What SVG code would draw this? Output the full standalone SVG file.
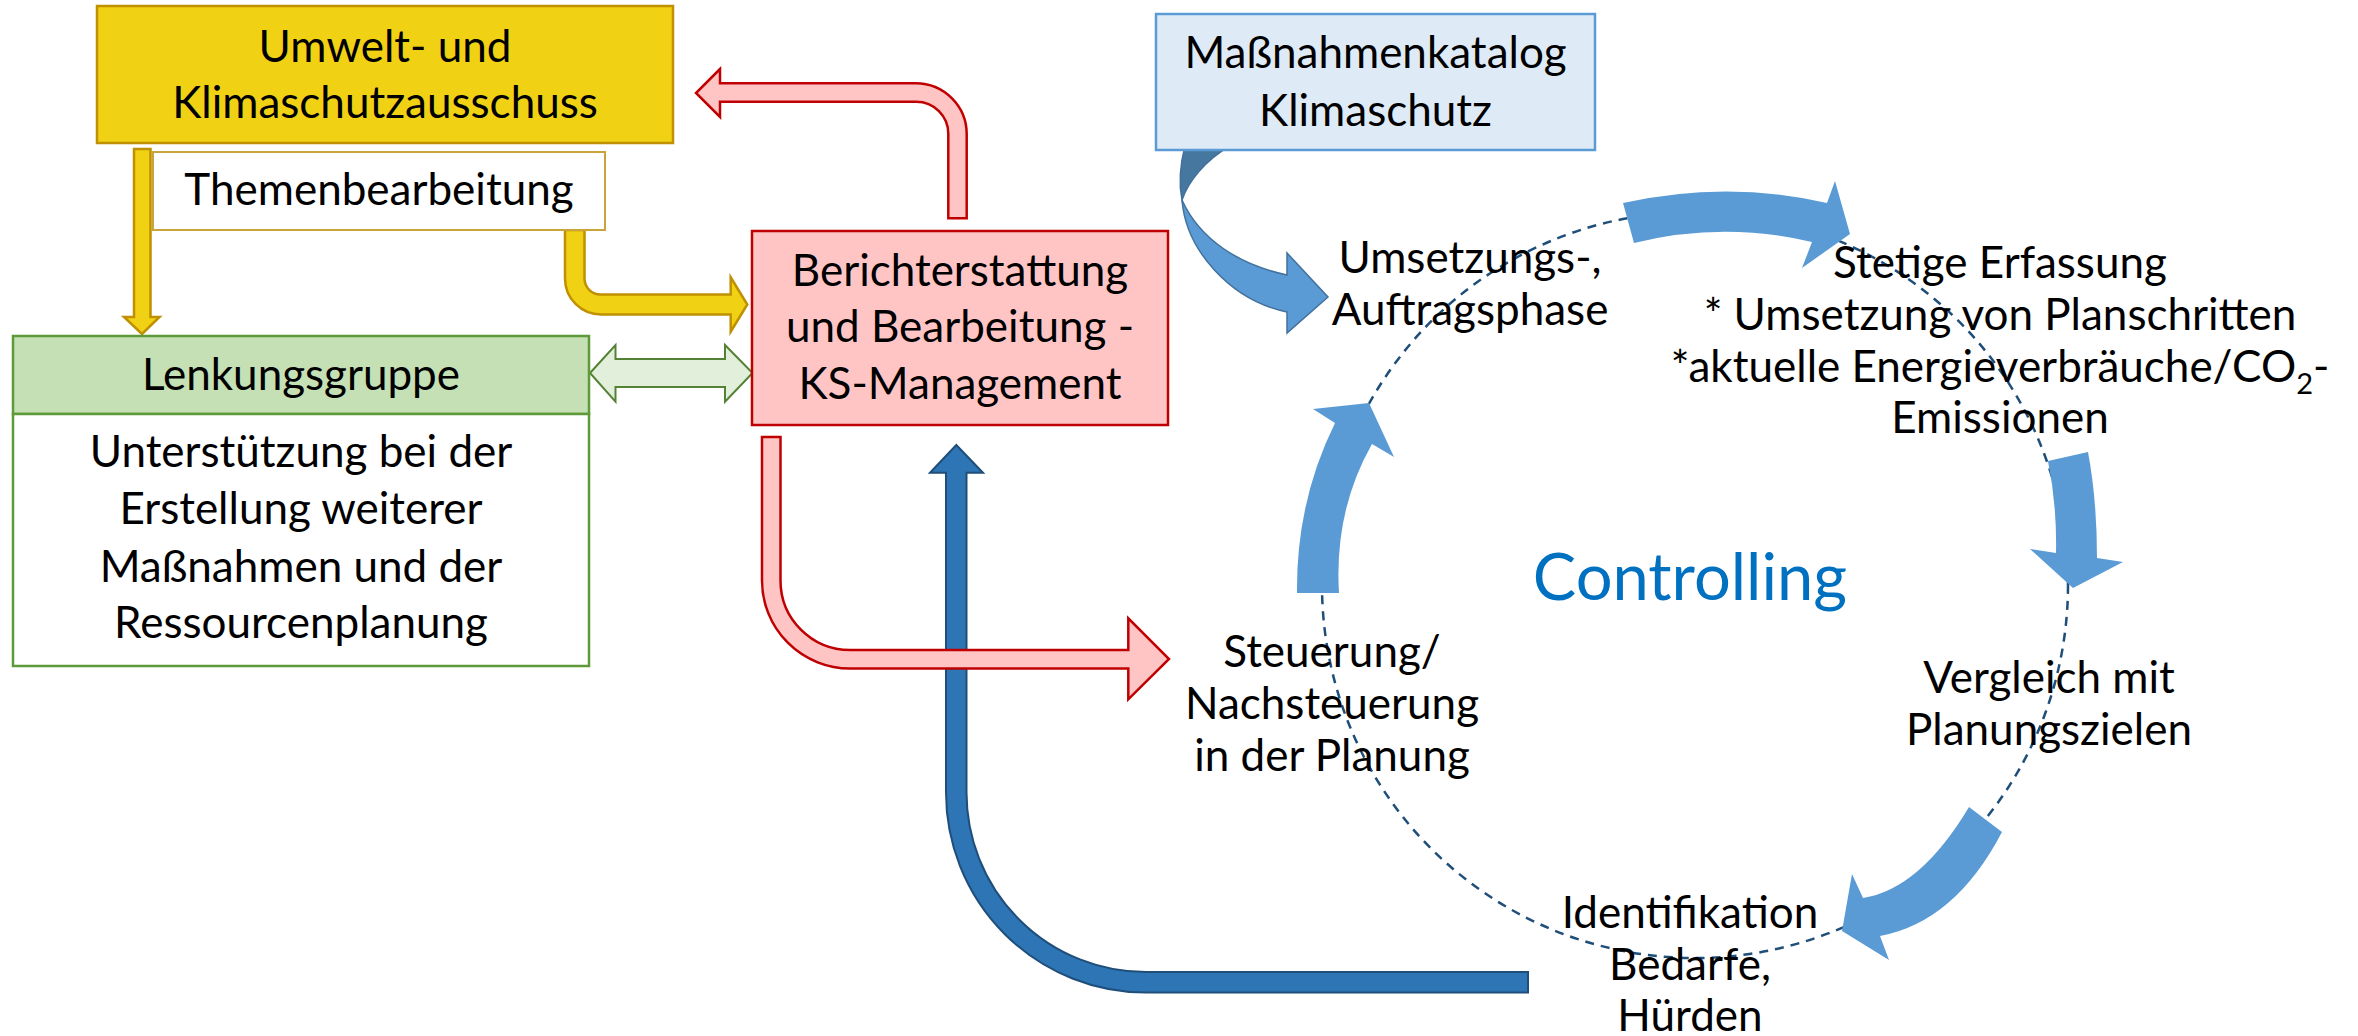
<svg xmlns="http://www.w3.org/2000/svg" width="2358" height="1036" viewBox="0 0 2358 1036">
<style>
text{font-family:"Lato","Open Sans","Liberation Sans",sans-serif;font-size:44px;fill:#000;text-anchor:middle}
.ctl{font-size:65px;fill:#0070C0}
.yel{fill:#F1D114;stroke:#BF9000;stroke-width:2.5}
.red{fill:#FFC5C5;stroke:#C00000;stroke-width:2.5}
.grn{fill:#E2EFDA;stroke:#548235;stroke-width:2}
.blu{fill:#5B9BD5;stroke:none}
.dblu{fill:#2E75B6;stroke:#1F4E79;stroke-width:2}
</style>
<rect width="2358" height="1036" fill="#fff"/>

<!-- dashed controlling circle -->
<circle id="cycle" cx="1695" cy="585" r="373" fill="none" stroke="#1F4E79" stroke-width="2.5" stroke-dasharray="9 7"/>

<g id="connectors">
  <!-- Maßnahmenkatalog curved arrow -->
  <path d="M1185,146 C1180,165 1179,185 1182,200 C1188,182 1205,160 1230,146 Z" fill="#46789F" stroke="#41719C" stroke-width="1.5"/>
  <path d="M1182,200 C1186,250 1230,300 1287,312 L1287,333 L1328,297 L1287,253 L1287,275 C1240,265 1200,240 1182,200 Z" fill="#5B9BD5" stroke="#41719C" stroke-width="1.5"/>
  <!-- cycle arrows -->
  <path class="blu" d="M1623,203 Q1727,180 1827,203 L1835,181 L1850,234 L1802,268 L1812,242 Q1723,221 1634,243 Z"/>
  <path class="blu" d="M2048,461 Q2057,505 2056,553 L2030,549 L2073,588 L2123,562 L2097,558 Q2097,500 2088,452 Z"/>
  <path class="blu" d="M1969,807 Q1920,889 1863,898 L1852,874 L1842,931 L1889,960 L1880,936 Q1955,922 2002,832 Z"/>
  <path class="blu" d="M1297,593 Q1296,502 1335,423 L1313,409 L1369,403 L1394,457 L1372,444 Q1334,511 1339,593 Z"/>
  <!-- yellow arrows -->
  <path class="yel" d="M134,149 L150.5,149 L150.5,317 L159.5,317 L142,334 L124,317 L134,317 Z"/>
  <path class="yel" d="M565,230 L565,278.5 A36,36 0 0 0 601,314.5 L730.7,314.5 L730.7,331.7 L747.3,304.5 L730.7,277.3 L730.7,294.5 L600.5,294.5 A16,16 0 0 1 584.5,278.5 L584.5,230 Z"/>
  <!-- green double arrow -->
  <path class="grn" d="M590,373 L615.5,345 L615.5,359 L725,359 L725,345 L752.5,373 L725,401.7 L725,387 L615.5,387 L615.5,401.7 Z"/>
  <!-- red top arrow -->
  <path class="red" d="M720,69 L696,93 L720,117 L720,101.7 L916.3,101.7 A32,32 0 0 1 948.3,133.7 L948.3,218.3 L966.7,218.3 L966.7,134.3 A51,51 0 0 0 915.7,83.3 L720,83.3 Z"/>
  <!-- dark blue return arrow -->
  <path class="dblu" d="M956.3,445 L983,472.7 L966.5,472.7 L966.5,792.5 A179.5,179.5 0 0 0 1146,972 L1528,972 L1528,992.5 L1146,992.5 A200,200 0 0 1 946,792.5 L946,472.7 L930,472.7 Z"/>
  <!-- red bottom arrow -->
  <path class="red" d="M762,437 L762,580.5 A88,88 0 0 0 850,668.5 L1128.3,668.5 L1128.3,699.3 L1169,659 L1128.3,618.3 L1128.3,650 L850,650 A69.5,69.5 0 0 1 780.5,580.5 L780.5,437 Z"/>
</g>

<g id="umweltausschuss">
  <rect x="97" y="6" width="576" height="137" fill="#F1D114" stroke="#BF9000" stroke-width="2.5"/>
  <text x="385" y="62">Umwelt- und</text>
  <text x="385" y="118">Klimaschutzausschuss</text>
</g>

<g id="themenbearbeitung">
  <rect x="153" y="152" width="452" height="78" fill="#fff" stroke="#C9A43A" stroke-width="2"/>
  <text x="379" y="205">Themenbearbeitung</text>
</g>

<g id="lenkungsgruppe">
  <rect x="13" y="336" width="576" height="78" fill="#C5E0B4" stroke="#5E9A3A" stroke-width="2.5"/>
  <rect x="13" y="414" width="576" height="252" fill="#fff" stroke="#5E9A3A" stroke-width="2.5"/>
  <text x="301" y="390">Lenkungsgruppe</text>
  <text x="301" y="467">Unterstützung bei der</text>
  <text x="301" y="524">Erstellung weiterer</text>
  <text x="301" y="582">Maßnahmen und der</text>
  <text x="301" y="638">Ressourcenplanung</text>
</g>

<g id="ks-management">
  <rect x="752" y="231" width="416" height="194" fill="#FFC5C5" stroke="#C00000" stroke-width="2.5"/>
  <text x="960" y="286">Berichterstattung</text>
  <text x="960" y="342">und Bearbeitung -</text>
  <text x="960" y="399">KS-Management</text>
</g>

<g id="massnahmenkatalog">
  <rect x="1156" y="14" width="439" height="136" fill="#DEEBF7" stroke="#5B9BD5" stroke-width="2.5"/>
  <text x="1375.5" y="68">Maßnahmenkatalog</text>
  <text x="1375.5" y="126">Klimaschutz</text>
</g>

<g id="umsetzung">
  <text x="1470" y="273">Umsetzungs-,</text>
  <text x="1470" y="325">Auftragsphase</text>
</g>

<g id="erfassung">
  <text x="2000" y="278">Stetige Erfassung</text>
  <text x="2000" y="330">* Umsetzung von Planschritten</text>
  <text x="2000" y="382">*aktuelle Energieverbräuche/CO<tspan font-size="29" dy="12">2</tspan><tspan dy="-12">-</tspan></text>
  <text x="2000" y="433">Emissionen</text>
</g>

<g id="controlling">
  <text class="ctl" x="1690" y="600">Controlling</text>
</g>

<g id="vergleich">
  <text x="2049" y="693">Vergleich mit</text>
  <text x="2049" y="745">Planungszielen</text>
</g>

<g id="identifikation">
  <text x="1690" y="928">Identifikation</text>
  <text x="1690" y="980">Bedarfe,</text>
  <text x="1690" y="1031">Hürden</text>
</g>

<g id="steuerung">
  <text x="1332" y="667">Steuerung/</text>
  <text x="1332" y="719">Nachsteuerung</text>
  <text x="1332" y="771">in der Planung</text>
</g>
</svg>
